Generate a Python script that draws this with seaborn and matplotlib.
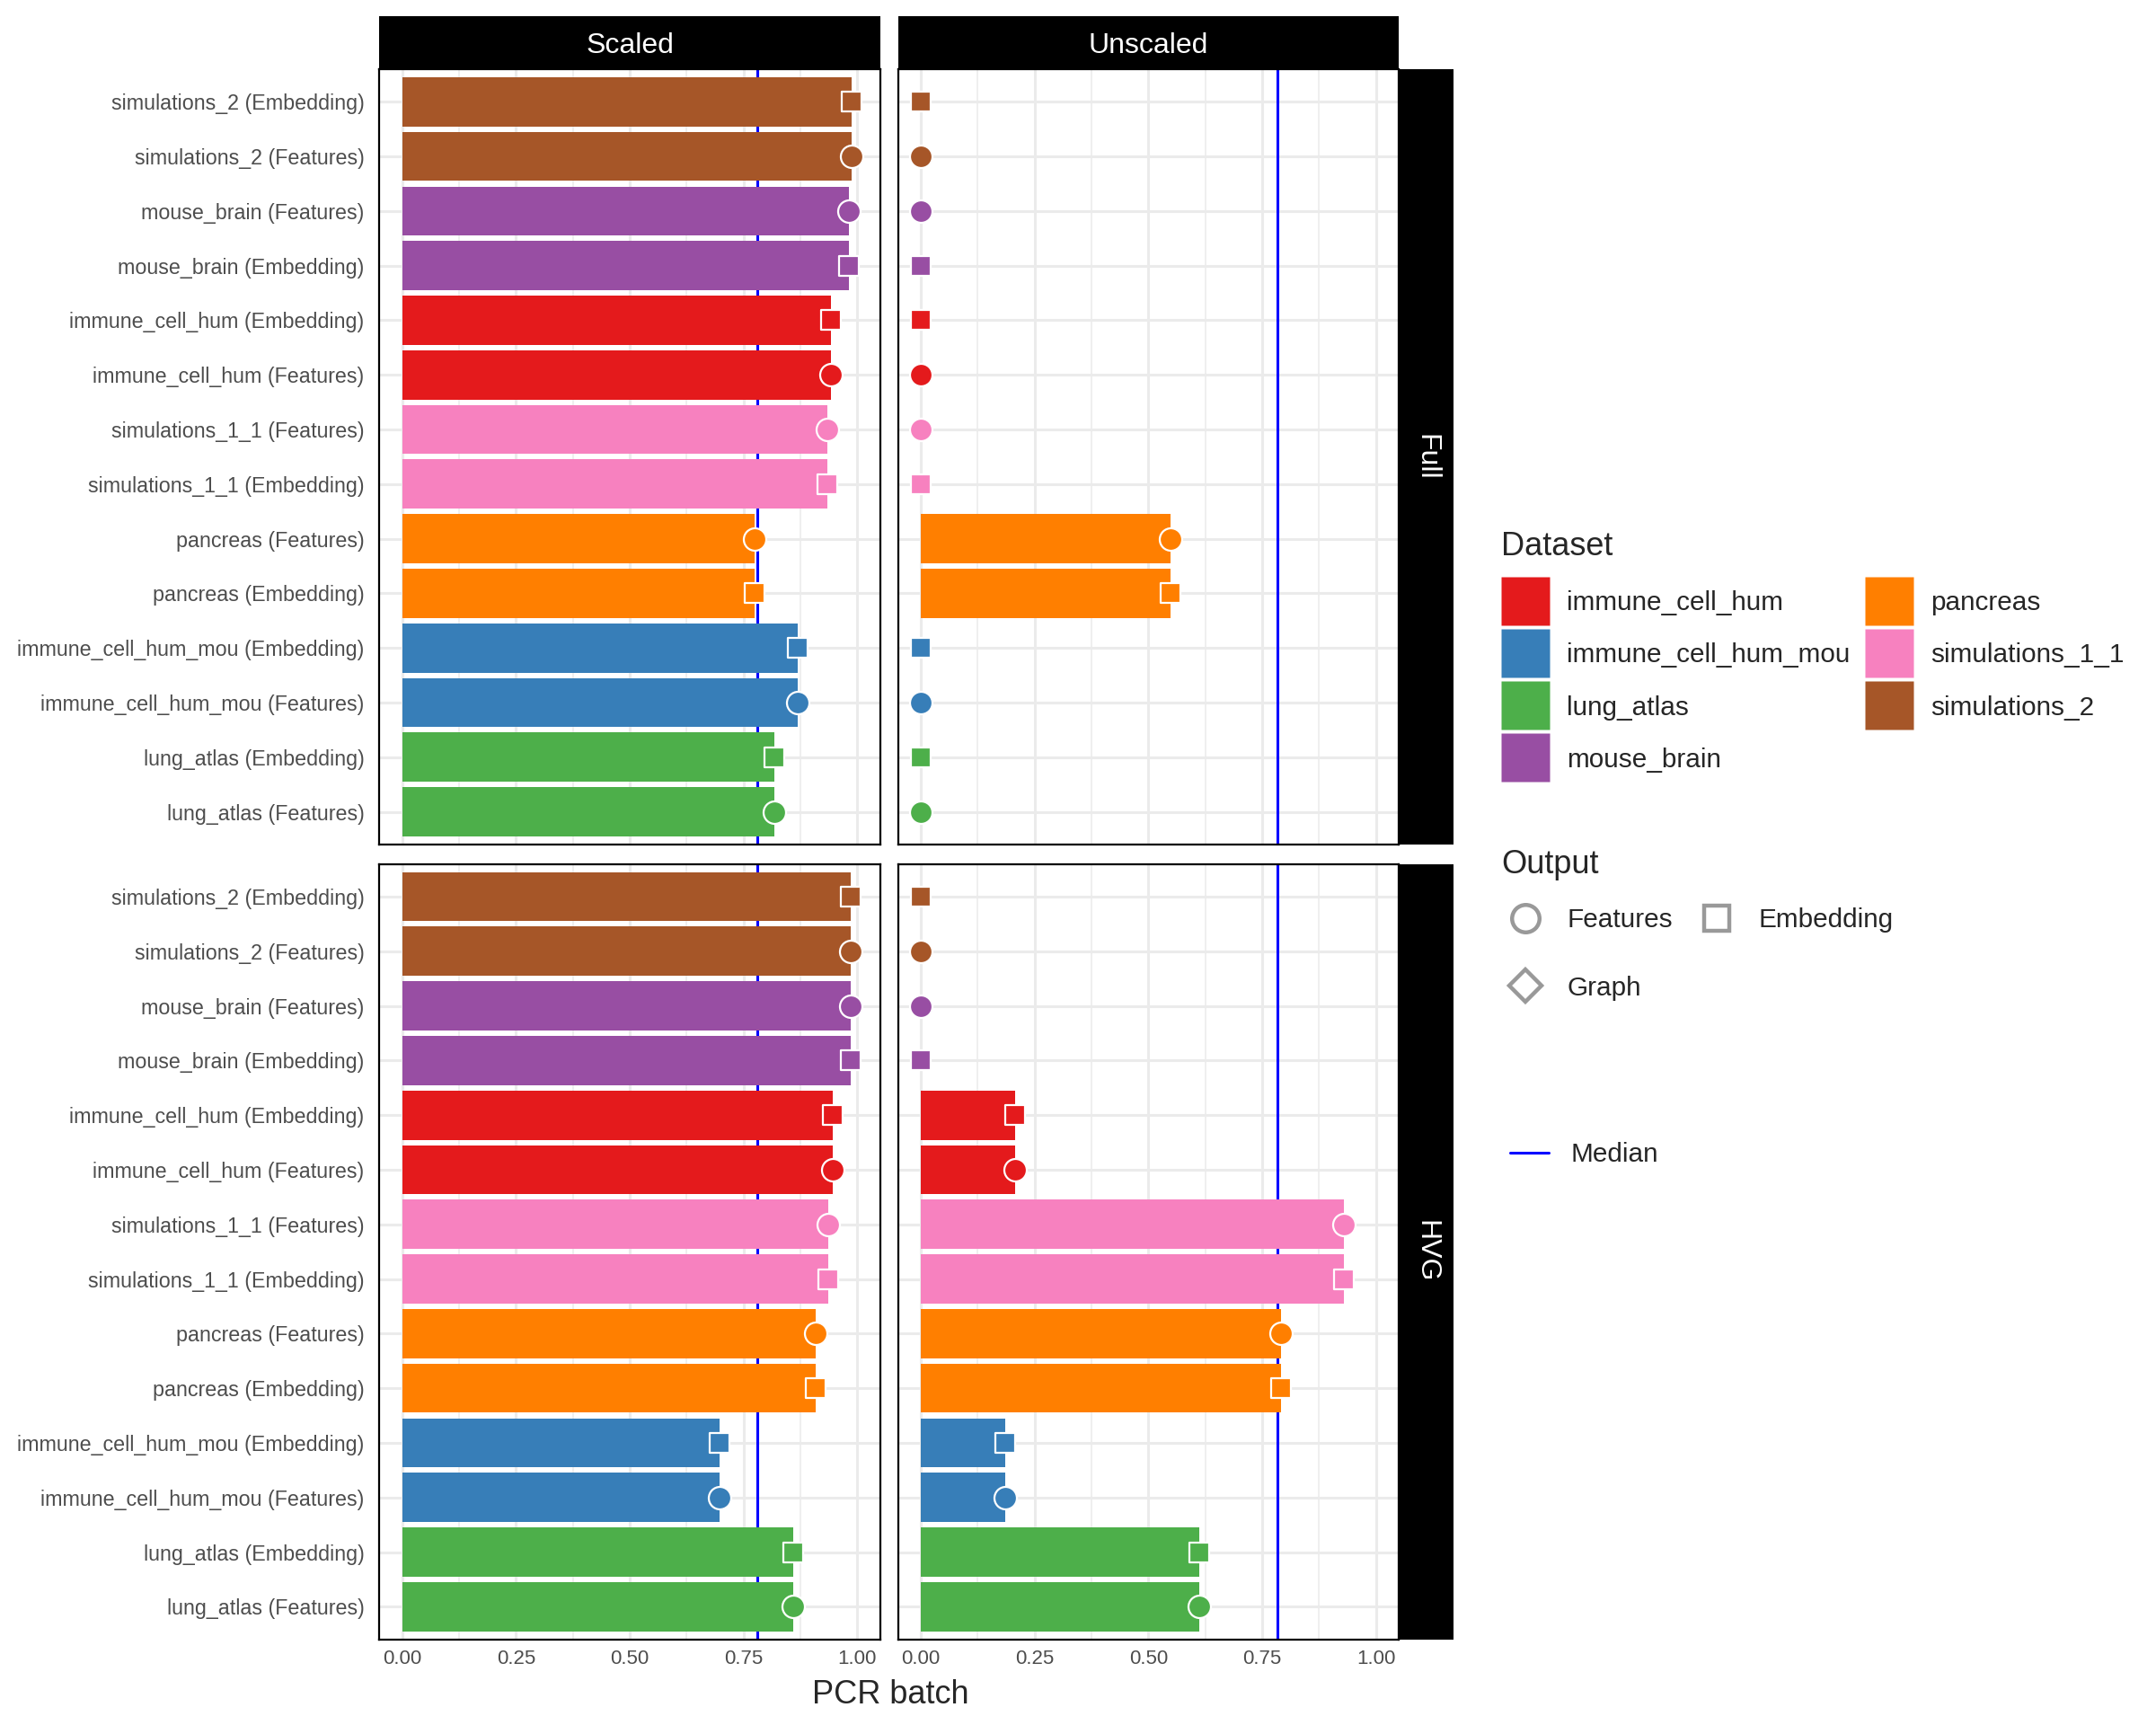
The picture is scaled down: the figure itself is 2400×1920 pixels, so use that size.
import numpy as np
import pandas as pd
import matplotlib
matplotlib.use("Agg")
import matplotlib.pyplot as plt
import seaborn as sns
from matplotlib.lines import Line2D

# ---------------- data ----------------
datasets = ["immune_cell_hum", "immune_cell_hum_mou", "lung_atlas", "mouse_brain",
            "pancreas", "simulations_1_1", "simulations_2"]
dataset_colors = ["#E41A1C", "#377EB8", "#4DAF4A", "#984EA3",
                  "#FF7F00", "#F781BF", "#A65628"]

row_dataset = ["simulations_2", "simulations_2", "mouse_brain", "mouse_brain",
               "immune_cell_hum", "immune_cell_hum", "simulations_1_1", "simulations_1_1",
               "pancreas", "pancreas", "immune_cell_hum_mou", "immune_cell_hum_mou",
               "lung_atlas", "lung_atlas"]
row_output = ["Embedding", "Features", "Features", "Embedding",
              "Embedding", "Features", "Features", "Embedding",
              "Features", "Embedding", "Embedding", "Features",
              "Embedding", "Features"]

scaled_full = [0.988, 0.988, 0.982, 0.982, 0.943, 0.943, 0.935, 0.935,
               0.774, 0.774, 0.870, 0.870, 0.817, 0.817]
unscaled_full = [0.0, 0.0, 0.0, 0.0, 0.0, 0.0, 0.0, 0.0,
                 0.548, 0.548, 0.0, 0.0, 0.0, 0.0]
scaled_hvg = [0.986, 0.986, 0.986, 0.986, 0.946, 0.946, 0.937, 0.937,
              0.909, 0.909, 0.697, 0.697, 0.860, 0.860]
unscaled_hvg = [0.0, 0.0, 0.0, 0.0, 0.207, 0.207, 0.929, 0.929,
                0.791, 0.791, 0.186, 0.186, 0.611, 0.611]
median_scaled = 0.781
median_unscaled = 0.783

col_labels = ["Scaled", "Unscaled"]
row_facets = ["Full", "HVG"]
output_levels = ["Features", "Embedding", "Graph"]
x_ticks = [0.0, 0.25, 0.5, 0.75, 1.0]
x_ticklabels = ["0.00", "0.25", "0.50", "0.75", "1.00"]

row_labels = [f"{d} ({o})" for d, o in zip(row_dataset, row_output)]
pal = dict(zip(datasets, dataset_colors))

# ---------------- style ----------------
sns.set_style("white")
plt.rcParams["font.family"] = ["Liberation Sans", "DejaVu Sans"]

fig = plt.figure(figsize=(12, 9.6), dpi=200)

left_x = [0.1760, 0.4166]
pw = 0.2322
row_y = [0.5104, 0.0496]
ph = 0.4496
strip_x = left_x[1] + pw


def draw(ax, values, median, show_y, show_x):
    df = pd.DataFrame({"label": row_labels, "Dataset": row_dataset,
                       "Output": row_output, "value": values})
    ax.axvline(median, color="#0000FF", lw=1.1, zorder=1.5)
    sns.barplot(data=df, x="value", y="label", hue="Dataset", hue_order=datasets,
                palette=pal, order=row_labels, dodge=False, width=0.9,
                saturation=1, errorbar=None, legend=False, ax=ax, orient="h",
                linewidth=0)
    for p in ax.patches:
        p.set_zorder(2)
    for out, mk, sz in [("Features", "o", 9.0), ("Embedding", "s", 7.6)]:
        sub = df[df["Output"] == out]
        sns.stripplot(data=sub, x="value", y="label", order=row_labels,
                      hue="Dataset", hue_order=datasets, palette=pal,
                      marker=mk, size=sz, jitter=False, dodge=False,
                      linewidth=0.8, edgecolor="white", legend=False, ax=ax,
                      orient="h", zorder=3)
    ax.set_xlim(-0.05, 1.05)
    ax.set_ylim(len(row_labels) - 0.4, -0.6)
    ax.set_xticks(x_ticks)
    ax.set_xticks([0.125, 0.375, 0.625, 0.875], minor=True)
    ax.set_axisbelow(True)
    ax.grid(True, which="major", color="#EBEBEB", lw=1.1, zorder=0)
    ax.grid(True, which="minor", axis="x", color="#EBEBEB", lw=0.55, zorder=0)
    ax.tick_params(which="both", length=0)
    ax.set_xlabel("")
    ax.set_ylabel("")
    if show_y:
        ax.set_yticks(range(len(row_labels)))
        ax.set_yticklabels(row_labels, fontsize=8.4, color="#4D4D4D")
        ax.tick_params(axis="y", pad=6)
    else:
        ax.set_yticklabels([])
    if show_x:
        ax.set_xticklabels(x_ticklabels, fontsize=8, color="#4D4D4D")
        ax.tick_params(axis="x", pad=4)
    else:
        ax.set_xticklabels([])
    for s in ax.spines.values():
        s.set_visible(True)
        s.set_color("black")
        s.set_linewidth(0.8)


panel_values = [[scaled_full, unscaled_full], [scaled_hvg, unscaled_hvg]]
medians = [median_scaled, median_unscaled]
for r in range(2):
    for c in range(2):
        ax = fig.add_axes([left_x[c], row_y[r], pw, ph])
        draw(ax, panel_values[r][c], medians[c], show_y=(c == 0), show_x=(r == 1))

# column strips
for c in range(2):
    sa = fig.add_axes([left_x[c], 0.96, pw, 0.0304])
    sa.set_facecolor("black")
    sa.set_xticks([]); sa.set_yticks([])
    for s in sa.spines.values():
        s.set_visible(False)
    sa.text(0.5, 0.45, col_labels[c], color="white", fontsize=11.5,
            ha="center", va="center", transform=sa.transAxes)

# row strips
for r in range(2):
    sa = fig.add_axes([strip_x, row_y[r], 0.0254, ph])
    sa.set_facecolor("black")
    sa.set_xticks([]); sa.set_yticks([])
    for s in sa.spines.values():
        s.set_visible(False)
    sa.text(0.5, 0.5, row_facets[r], color="white", fontsize=11.5, rotation=270,
            ha="center", va="center", transform=sa.transAxes)

fig.text(0.413, 0.0176, "PCR batch", ha="center", va="center", fontsize=13)

# ---------------- legends ----------------
ds_handles = [Line2D([], [], marker="s", markersize=19.4, linestyle="",
                     markerfacecolor=pal[d], markeredgecolor="none") for d in datasets]
leg1 = fig.legend(ds_handles, datasets, title="Dataset", ncol=2, loc="upper left",
                  bbox_to_anchor=(0.6962, 0.692), frameon=False, fontsize=10.7,
                  title_fontsize=13, handlelength=1.8,
                  handletextpad=0.67, labelspacing=1.02, columnspacing=0.55,
                  borderpad=0, borderaxespad=0, alignment="left")
leg1._legend_box.sep = 11

mk = {"Features": ("o", 11), "Embedding": ("s", 10), "Graph": ("D", 9)}
out_order = ["Features", "Graph", "Embedding"]
out_handles = [Line2D([], [], marker=mk[o][0], markersize=mk[o][1], linestyle="",
                      markerfacecolor="none", markeredgecolor="#999999",
                      markeredgewidth=1.6) for o in out_order]
leg2 = fig.legend(out_handles, out_order, title="Output", ncol=2, loc="upper left",
                  bbox_to_anchor=(0.6962, 0.508), frameon=False, fontsize=10.7,
                  title_fontsize=13, handlelength=1.8,
                  handletextpad=0.67, labelspacing=1.6, columnspacing=0.75,
                  borderpad=0, borderaxespad=0, alignment="left")
leg2._legend_box.sep = 11

med_handle = [Line2D([], [], color="#0000FF", lw=1.1)]
leg3 = fig.legend(med_handle, ["Median"], loc="upper left",
                  bbox_to_anchor=(0.7005, 0.338), frameon=False, fontsize=10.7,
                  handlelength=1.45, handletextpad=0.8, borderpad=0, borderaxespad=0)

fig.savefig("out.png", dpi=200, facecolor="white")
